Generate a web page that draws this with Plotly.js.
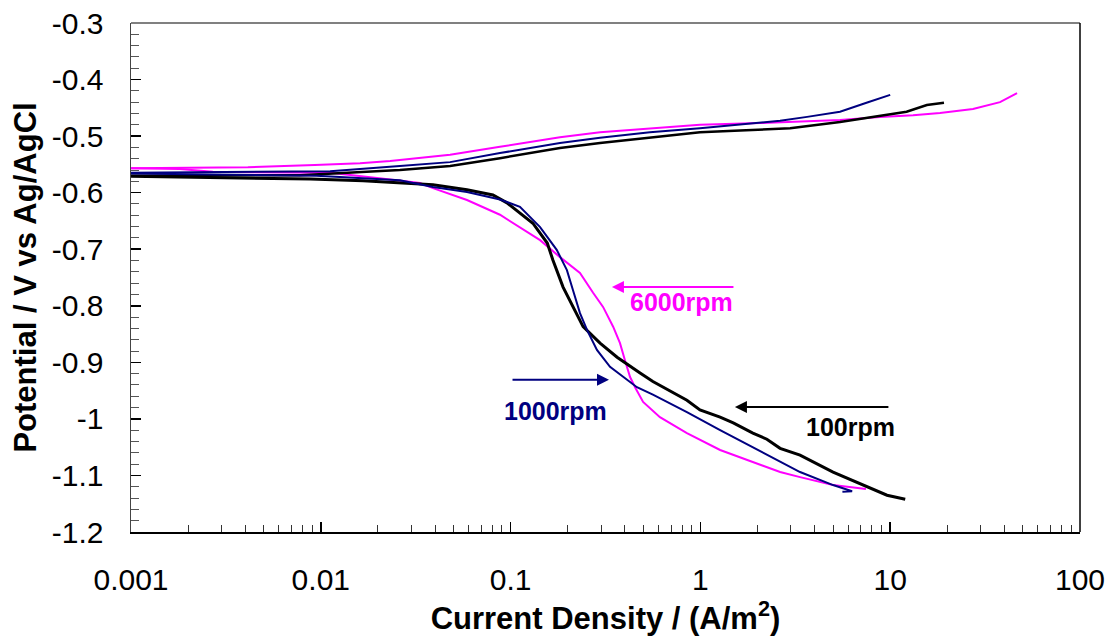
<!DOCTYPE html>
<html>
<head>
<meta charset="utf-8">
<script src="https://cdn.plot.ly/plotly-3.0.1.min.js"></script>
<style>html,body{margin:0;padding:0;background:#fff;}#chart{width:1114px;height:643px;}</style>
</head>
<body>
<div id="chart"></div>
<script>
// ---- Data (current density A/m^2, potential V vs Ag/AgCl) ----
// 100 rpm
var rpm100_cathX = [0.001, 0.0088, 0.0167, 0.0252, 0.039, 0.0589, 0.0807, 0.0957, 0.131, 0.156, 0.167, 0.189, 0.213, 0.241, 0.296, 0.364, 0.481, 0.562, 0.849, 0.995, 1.27, 1.49, 1.89, 2.24, 2.63, 3.35, 5.0, 7.5, 9.62, 12.0];
var rpm100_cathY = [-0.571, -0.576, -0.579, -0.583, -0.586, -0.595, -0.604, -0.618, -0.654, -0.689, -0.719, -0.767, -0.802, -0.837, -0.866, -0.891, -0.919, -0.934, -0.967, -0.984, -0.997, -1.007, -1.025, -1.036, -1.052, -1.064, -1.094, -1.120, -1.135, -1.142];
var rpm100_anodX = [0.001, 0.00776, 0.0261, 0.048, 0.0879, 0.182, 0.296, 0.542, 0.995, 1.62, 2.97, 5.44, 8.83, 12.2, 15.6, 19.2];
var rpm100_anodY = [-0.570, -0.569, -0.560, -0.553, -0.539, -0.521, -0.512, -0.502, -0.493, -0.490, -0.486, -0.475, -0.464, -0.457, -0.445, -0.441];

// 1000 rpm
var rpm1000_cathX = [0.001, 0.0095, 0.0261, 0.039, 0.0589, 0.0879, 0.112, 0.143, 0.175, 0.198, 0.213, 0.232, 0.253, 0.285, 0.334, 0.410, 0.463, 0.562, 0.849, 1.27, 1.89, 2.63, 3.35, 5.0, 6.14, 6.3, 5.6];
var rpm1000_cathY = [-0.566, -0.570, -0.578, -0.590, -0.599, -0.612, -0.625, -0.661, -0.701, -0.737, -0.772, -0.813, -0.843, -0.878, -0.908, -0.931, -0.944, -0.957, -0.988, -1.020, -1.050, -1.076, -1.094, -1.117, -1.126, -1.128, -1.129];
var rpm1000_anodX = [0.001, 0.00776, 0.0112, 0.0261, 0.048, 0.0879, 0.182, 0.296, 0.542, 0.995, 2.06, 2.63, 3.65, 5.44, 7.5, 10.0];
var rpm1000_anodY = [-0.565, -0.563, -0.562, -0.553, -0.546, -0.530, -0.512, -0.503, -0.493, -0.486, -0.477, -0.473, -0.466, -0.457, -0.441, -0.427];

// 6000 rpm
var rpm6000_cathX = [0.001, 0.0018, 0.0027, 0.0112, 0.0198, 0.0333, 0.039, 0.0589, 0.0879, 0.112, 0.143, 0.182, 0.232, 0.272, 0.307, 0.347, 0.377, 0.400, 0.426, 0.454, 0.499, 0.612, 0.849, 1.27, 1.89, 2.63, 3.35, 5.0, 7.45];
var rpm6000_cathY = [-0.557, -0.558, -0.563, -0.565, -0.574, -0.583, -0.592, -0.613, -0.639, -0.661, -0.684, -0.714, -0.742, -0.777, -0.802, -0.837, -0.866, -0.896, -0.926, -0.945, -0.970, -0.997, -1.025, -1.055, -1.076, -1.094, -1.103, -1.117, -1.124];
var rpm6000_anodX = [0.001, 0.00413, 0.0093, 0.0161, 0.0232, 0.0376, 0.048, 0.0879, 0.182, 0.296, 0.542, 0.995, 2.06, 5.44, 8.83, 13.2, 18.3, 27.3, 37.9, 46.6];
var rpm6000_anodY = [-0.557, -0.555, -0.551, -0.548, -0.544, -0.537, -0.533, -0.519, -0.502, -0.493, -0.486, -0.480, -0.477, -0.4715, -0.466, -0.463, -0.459, -0.452, -0.440, -0.424];

// Axis ticks
var xTickVals = [0.001, 0.01, 0.1, 1, 10, 100];
var xTickText = ['0.001', '0.01', '0.1', '1', '10', '100'];
var yTickVals = [-0.3, -0.4, -0.5, -0.6, -0.7, -0.8, -0.9, -1.0, -1.1, -1.2];
var yTickText = ['-0.3', '-0.4', '-0.5', '-0.6', '-0.7', '-0.8', '-0.9', '-1', '-1.1', '-1.2'];

var labels = ['100rpm', '1000rpm', '6000rpm'];
var colors = ['#000000', '#000080', '#FF00FF'];

function tr(x, y, c, w) {
  return {x: x, y: y, type: 'scatter', mode: 'lines', line: {color: c, width: w}, showlegend: false, hoverinfo: 'skip'};
}

var data = [
  tr(rpm6000_cathX, rpm6000_cathY, colors[2], 2),
  tr(rpm6000_anodX, rpm6000_anodY, colors[2], 2),
  tr(rpm100_cathX, rpm100_cathY, colors[0], 3),
  tr(rpm100_anodX, rpm100_anodY, colors[0], 2.5),
  tr(rpm1000_cathX, rpm1000_cathY, colors[1], 2),
  tr(rpm1000_anodX, rpm1000_anodY, colors[1], 2)
];

var fontFam = 'Arial, "Liberation Sans", sans-serif';

var layout = {
  width: 1114, height: 643,
  margin: {l: 131, r: 34, t: 23, b: 111},
  paper_bgcolor: '#fff', plot_bgcolor: '#fff',
  font: {family: fontFam, color: '#000'},
  xaxis: {
    type: 'log', range: [-3, 2],
    tickmode: 'array', tickvals: xTickVals, ticktext: xTickText,
    ticks: 'inside', ticklen: 10, tickwidth: 1.5, tickcolor: '#000',
    minor: {ticks: 'inside', ticklen: 7, tickwidth: 1, tickcolor: '#333', dtick: 'D1'},
    showgrid: false, zeroline: false,
    showline: true, linecolor: '#000', linewidth: 2,
    tickfont: {size: 30, family: fontFam},
    ticklabelstandoff: 20,
    title: {text: '<b>Current Density / (A/m<sup>2</sup>)</b>', font: {size: 31, family: fontFam}, standoff: 8}
  },
  yaxis: {
    range: [-1.2, -0.3],
    tickmode: 'array', tickvals: yTickVals, ticktext: yTickText,
    ticks: 'inside', ticklen: 10, tickwidth: 1.5, tickcolor: '#000',
    minor: {ticks: 'inside', ticklen: 8, tickwidth: 1, tickcolor: '#555', dtick: 0.02, tick0: -1.2},
    showgrid: false, zeroline: false,
    showline: true, linecolor: '#444', linewidth: 1.5,
    tickfont: {size: 30, family: fontFam},
    ticklabelstandoff: 20,
    title: {text: '<b>Potential / V vs Ag/AgCl</b>', font: {size: 31, family: fontFam}, standoff: 6}
  },
  shapes: [
    {type: 'line', xref: 'paper', yref: 'paper', x0: 0, x1: 1, y0: 1, y1: 1, line: {color: '#808080', width: 2}},
    {type: 'line', xref: 'paper', yref: 'paper', x0: 1, x1: 1, y0: 0, y1: 1, line: {color: '#000', width: 1.5}}
  ],
  annotations: [
    {x: Math.log10(0.342), y: -0.767, xref: 'x', yref: 'y', text: '', showarrow: true, ax: 123, ay: 0, arrowhead: 2, arrowsize: 1.2, arrowwidth: 2, arrowcolor: colors[2]},
    {x: Math.log10(0.791), y: -0.793, xref: 'x', yref: 'y', text: '<b>' + labels[2] + '</b>', showarrow: false, font: {size: 25, color: colors[2], family: fontFam}},
    {x: Math.log10(0.330), y: -0.931, xref: 'x', yref: 'y', text: '', showarrow: true, ax: -98, ay: 0, arrowhead: 2, arrowsize: 1.2, arrowwidth: 2, arrowcolor: colors[1]},
    {x: Math.log10(0.173), y: -0.986, xref: 'x', yref: 'y', text: '<b>' + labels[1] + '</b>', showarrow: false, font: {size: 25, color: colors[1], family: fontFam}},
    {x: Math.log10(1.52), y: -0.979, xref: 'x', yref: 'y', text: '', showarrow: true, ax: 155, ay: 0, arrowhead: 2, arrowsize: 1.2, arrowwidth: 2, arrowcolor: colors[0]},
    {x: Math.log10(6.21), y: -1.014, xref: 'x', yref: 'y', text: '<b>' + labels[0] + '</b>', showarrow: false, font: {size: 25, color: colors[0], family: fontFam}}
  ]
};

Plotly.newPlot('chart', data, layout, {displayModeBar: false, staticPlot: true});
</script>
</body>
</html>
